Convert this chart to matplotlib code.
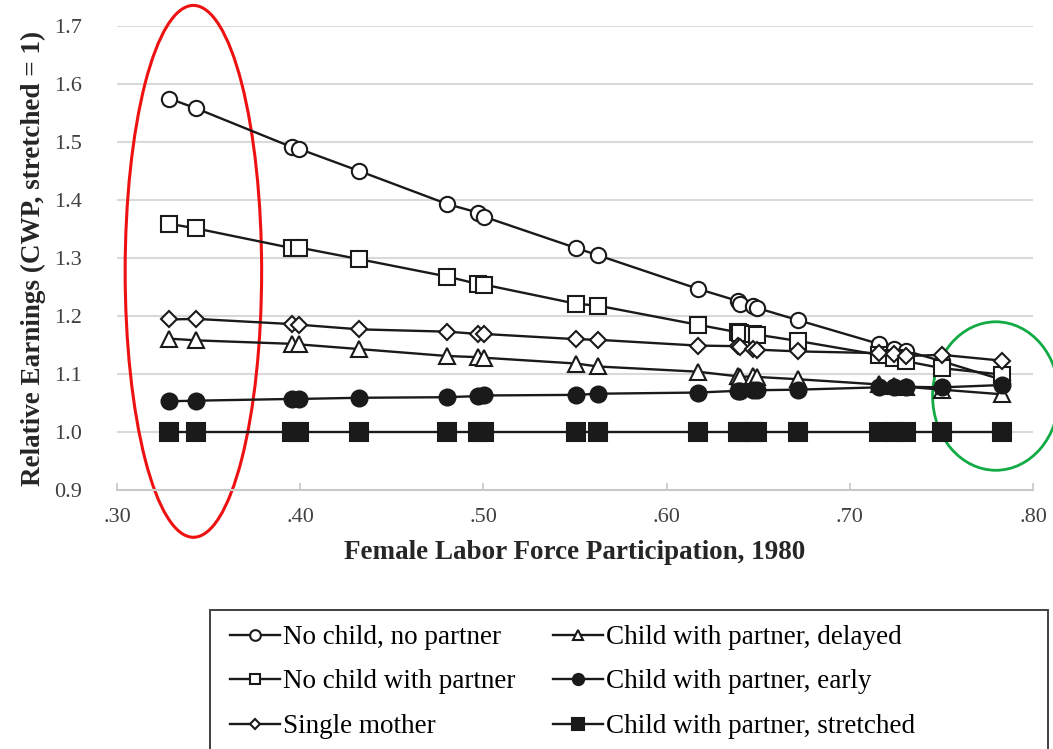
import matplotlib
matplotlib.use("Agg")
import matplotlib.pyplot as plt
from matplotlib.patches import Ellipse, Rectangle
from matplotlib.ticker import FuncFormatter, MultipleLocator

plt.rcParams['font.family'] = ['Liberation Serif', 'DejaVu Serif']

#===========================================================
# --- Data -------------------------------------------------
#===========================================================

# female labor force participation, 1980 (one point per unit)
flfp = [0.3284, 0.3432, 0.3956, 0.3995, 0.4322, 0.4803, 0.4973, 0.5005,
        0.5508, 0.5623, 0.6169, 0.6388, 0.6399, 0.6470, 0.6492, 0.6716,
        0.7158, 0.7240, 0.7306, 0.7503, 0.7831]

no_child_no_partner = [1.575, 1.558, 1.491, 1.488, 1.450, 1.393, 1.378, 1.371,
                       1.317, 1.305, 1.247, 1.226, 1.221, 1.218, 1.214, 1.193,
                       1.152, 1.143, 1.140, 1.122, 1.090]
no_child_with_partner = [1.359, 1.351, 1.317, 1.318, 1.298, 1.268, 1.255, 1.254,
                         1.221, 1.218, 1.185, 1.172, 1.171, 1.169, 1.168, 1.157,
                         1.133, 1.128, 1.122, 1.110, 1.099]
single_mother = [1.194, 1.195, 1.186, 1.185, 1.177, 1.173, 1.169, 1.169,
                 1.160, 1.159, 1.149, 1.148, 1.147, 1.143, 1.142, 1.139,
                 1.136, 1.135, 1.131, 1.133, 1.123]
delayed = [1.161, 1.158, 1.152, 1.151, 1.143, 1.131, 1.129, 1.128,
           1.118, 1.113, 1.104, 1.096, 1.095, 1.096, 1.095, 1.091,
           1.082, 1.080, 1.078, 1.073, 1.065]
early = [1.053, 1.054, 1.057, 1.057, 1.059, 1.060, 1.062, 1.063,
         1.064, 1.066, 1.068, 1.071, 1.071, 1.072, 1.072, 1.073,
         1.077, 1.077, 1.078, 1.077, 1.081]
stretched = [1.0] * len(flfp)

labels = ['No child, no partner', 'No child with partner', 'Single mother',
          'Child with partner, delayed', 'Child with partner, early',
          'Child with partner, stretched']

x_ticks = [0.30, 0.40, 0.50, 0.60, 0.70, 0.80]

#===========================================================
# --- Figure -----------------------------------------------
#===========================================================

fig = plt.figure(figsize=(10.53, 7.49), dpi=100)
ax = fig.add_axes([117/1053, 1 - 490/749, (1033 - 117)/1053, (490 - 26)/749])

lc = '#1a1a1a'
styles = [
    (no_child_no_partner, dict(marker='o', ms=11, mfc='white')),
    (no_child_with_partner, dict(marker='s', ms=11, mfc='white')),
    (single_mother, dict(marker='D', ms=8, mfc='white')),
    (delayed, dict(marker='^', ms=11, mfc='white')),
    (early, dict(marker='o', ms=11.5, mfc=lc)),
    (stretched, dict(marker='s', ms=13, mfc=lc)),
]

handles = []
for (y, st), lab in zip(styles, labels):
    h, = ax.plot(flfp, y, color=lc, lw=1.7, mec=lc, mew=1.5, label=lab, **st)
    handles.append(h)

ax.set_xlim(0.30, 0.80)
ax.set_ylim(0.9, 1.7)
ax.set_xticks(x_ticks)
ax.xaxis.set_major_formatter(FuncFormatter(lambda v, p: ('%.2f' % v)[1:]))
ax.yaxis.set_major_locator(MultipleLocator(0.1))
ax.yaxis.set_major_formatter(FuncFormatter(lambda v, p: '%.1f' % v))

ax.grid(axis='y', color='#d9d9d9', lw=1.5)
ax.set_axisbelow(True)
for s in ['top', 'right', 'left']:
    ax.spines[s].set_visible(False)
ax.spines['bottom'].set_color('#c8c8c8')
ax.spines['bottom'].set_linewidth(1.5)

ax.tick_params(axis='y', length=0, pad=25, labelsize=16, labelcolor='#404040')
ax.tick_params(axis='x', direction='in', length=5, width=1.2, color='#c8c8c8',
               pad=13, labelsize=16, labelcolor='#404040')

ax.set_ylabel('Relative Earnings (CWP, stretched = 1)', fontsize=19.5,
              fontweight='bold', color='#262626', labelpad=6)
ax.set_xlabel('Female Labor Force Participation, 1980', fontsize=19.5,
              fontweight='bold', color='#262626', labelpad=9)

# annotations drawn over the chart
ax.add_patch(Ellipse((0.3417, 1.277), 0.0745, 0.917, fill=False,
                     ec='#ee1111', lw=2.2, clip_on=False))
ax.add_patch(Ellipse((0.7797, 1.062), 0.069, 0.256, fill=False,
                     ec='#11aa44', lw=2.0, clip_on=False))

# legend, frame drawn by hand (it runs off the bottom of the page)
fig.patches.append(Rectangle((210/1053, -0.05), (1048 - 210)/1053,
                             0.05 + 1 - 610/749, transform=fig.transFigure,
                             fill=False, ec='#404040', lw=1.4))
fig.legend(handles=handles, ncol=2, loc='upper left',
           bbox_to_anchor=(230/1053, 1 - 625/749), frameon=False,
           fontsize=19.5, markerscale=0.7, handlelength=1.85, handletextpad=0.1,
           columnspacing=1.4, labelspacing=0.72, borderpad=0, borderaxespad=0)

fig.savefig('out.png', dpi=100)
